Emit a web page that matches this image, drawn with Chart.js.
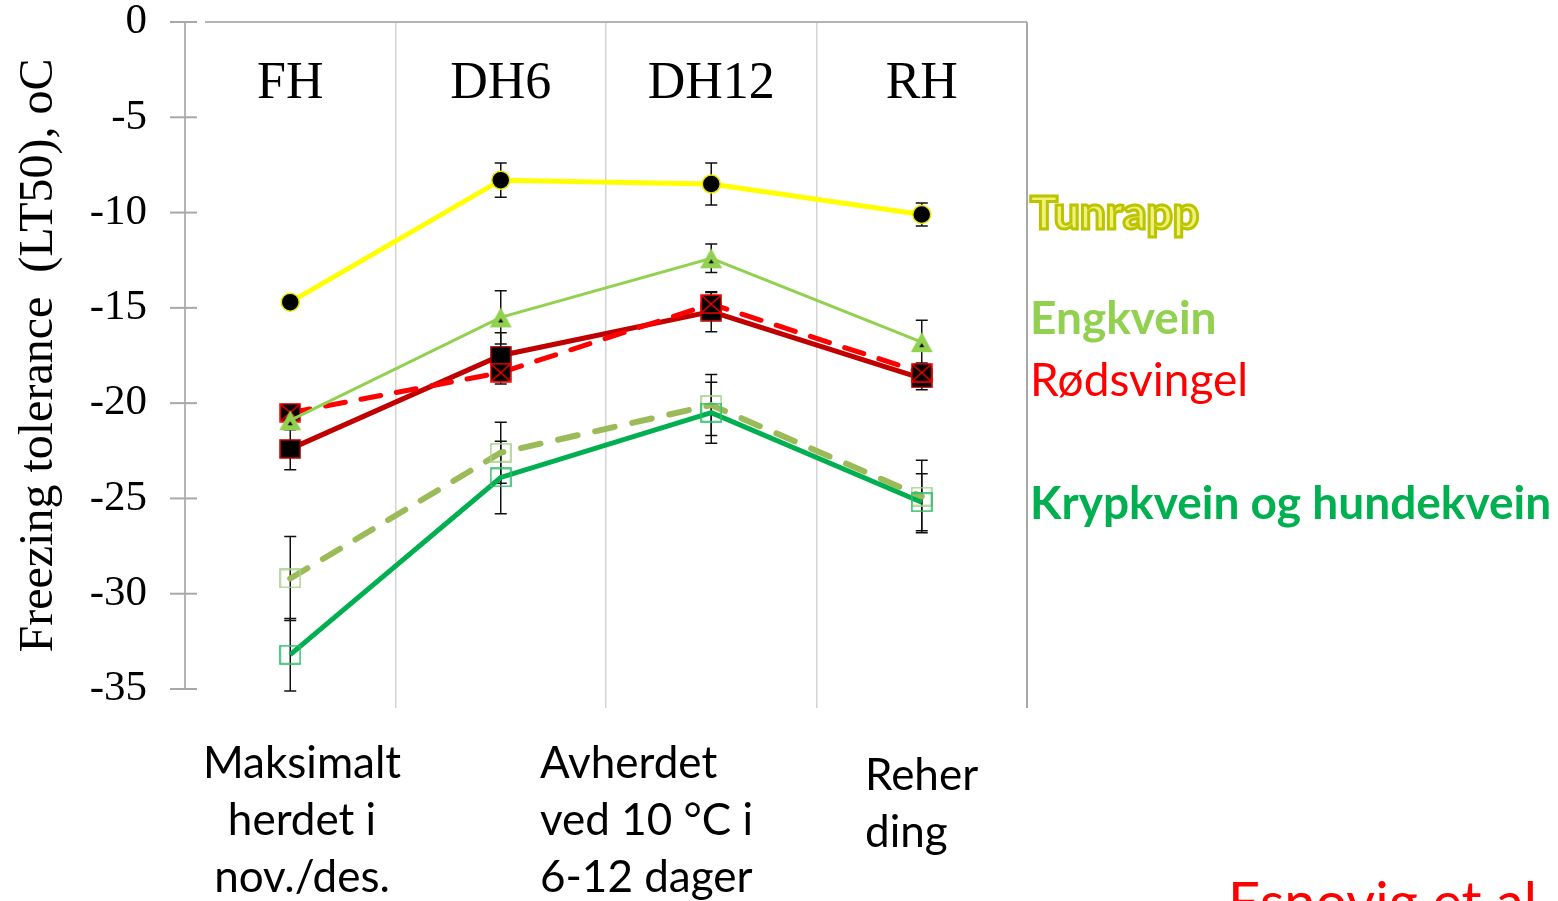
<!DOCTYPE html>
<html>
<head>
<meta charset="utf-8">
<script src="https://cdn.jsdelivr.net/npm/chart.js@4.4.1/dist/chart.umd.min.js"></script>
<style>
  html, body { margin: 0; padding: 0; background: #fff; }
  body { width: 1558px; height: 901px; overflow: hidden; position: relative; }
  #c { position: absolute; left: 0; top: 0; }
  .lbl { position: absolute; white-space: nowrap; font-family: Lato, "Open Sans", sans-serif; line-height: 1; }
  .blk { position: absolute; font-family: Lato, "Open Sans", sans-serif; font-size: 44px; line-height: 57px; color: #000; white-space: nowrap; }
</style>
</head>
<body>
<canvas id="c" width="1558" height="901"></canvas>

<div class="lbl" style="left:1030px; top:189px; font-size:46px; font-weight:900; color:#eef27a; -webkit-text-stroke:3px #bcc400;">Tunrapp</div>
<div class="lbl" style="left:1030px; top:294px; font-size:46px; font-weight:700; color:#92D050;">Engkvein</div>
<div class="lbl" style="left:1030px; top:356px; font-size:46px; font-weight:400; color:#FF0000;">Rødsvingel</div>
<div class="lbl" style="left:1030px; top:479px; font-size:46px; font-weight:700; color:#00B050;">Krypkvein og hundekvein</div>

<div class="blk" style="left:152px; top:733px; width:300px; text-align:center;">Maksimalt<br>herdet i<br>nov./des.</div>
<div class="blk" style="left:540px; top:733px;">Avherdet<br>ved 10 °C i<br>6-12 dager</div>
<div class="blk" style="left:865px; top:745px;">Reher<br>ding</div>

<div class="lbl" style="left:1228px; top:873px; font-size:56px; color:#FF0000;">Esnovig et al</div>

<script>
// ---------- data ----------
const categories = ['FH', 'DH6', 'DH12', 'RH'];
const yTickMin = -35;
const yTickMax = 0;
const yTickStep = 5;
const yTitle = 'Freezing tolerance  (LT50), oC';

const tunrapp      = [-14.7, -8.3, -8.5, -10.1];
const tunrappErr   = [0.3, 0.9, 1.1, 0.6];
const engkvein     = [-20.9, -15.5, -12.4, -16.8];
const engkveinErr  = [0.5, 1.4, 0.75, 1.15];
const rodDashed    = [-20.5, -18.4, -14.8, -18.4];
const rodDashedErr = [0.4, 0.6, 0.6, 0.5];
const rodSolid     = [-22.4, -17.5, -15.2, -18.7];
const rodSolidErr  = [1.1, 1.2, 1.05, 0.6];
const krypkvein    = [-33.2, -23.9, -20.5, -25.2];
const krypkveinErr = [1.9, 1.9, 1.6, 1.5];
const hundekvein   = [-29.2, -22.6, -20.1, -24.9];
const hundekveinErr= [2.2, 1.6, 1.6, 1.9];

// ---------- marker images ----------
function mk(w, h, draw) {
  const c = document.createElement('canvas');
  c.width = w; c.height = h;
  draw(c.getContext('2d'), w, h);
  return c;
}
const triMarker = mk(24, 22, (g, w, h) => {
  g.fillStyle = '#92D050';
  g.beginPath(); g.moveTo(w/2, 1); g.lineTo(w-1, h-1); g.lineTo(1, h-1); g.closePath(); g.fill();
  g.fillStyle = '#000';
  g.beginPath(); g.moveTo(w/2, h/2 + 1); g.lineTo(w/2 + 2.5, h/2 + 5); g.lineTo(w/2 - 2.5, h/2 + 5); g.closePath(); g.fill();
});
const sqSolid = mk(22, 20, (g, w, h) => {
  g.fillStyle = '#000'; g.fillRect(1, 1, w-2, h-2);
  g.strokeStyle = '#C00000'; g.lineWidth = 1.5; g.strokeRect(1, 1, w-2, h-2);
});
const sqCross = mk(22, 20, (g, w, h) => {
  g.fillStyle = '#000'; g.fillRect(1, 1, w-2, h-2);
  g.strokeStyle = '#FF0000'; g.lineWidth = 1.5; g.strokeRect(1, 1, w-2, h-2);
  g.beginPath(); g.moveTo(2, 2); g.lineTo(w-2, h-2); g.moveTo(w-2, 2); g.lineTo(2, h-2); g.stroke();
});
const sqOpenGreen = mk(22, 20, (g, w, h) => {
  g.strokeStyle = '#2DBE6A'; g.lineWidth = 1.6; g.strokeRect(1, 1, w-2, h-2);
});
const sqOpenOlive = mk(22, 20, (g, w, h) => {
  g.strokeStyle = '#A9D18E'; g.lineWidth = 1.6; g.strokeRect(1, 1, w-2, h-2);
});

// ---------- plugins ----------
const errorBars = {
  id: 'errorBars',
  beforeDatasetsDraw(chart) {
    const g = chart.ctx, ys = chart.scales.y;
    g.save();
    g.strokeStyle = '#111'; g.lineWidth = 1.5;
    chart.data.datasets.forEach((ds, di) => {
      const meta = chart.getDatasetMeta(di);
      if (!ds.errors) return;
      meta.data.forEach((pt, i) => {
        const v = ds.data[i], e = ds.errors[i];
        const y1 = ys.getPixelForValue(v + e), y2 = ys.getPixelForValue(v - e);
        g.beginPath();
        g.moveTo(pt.x, y1); g.lineTo(pt.x, y2);
        g.moveTo(pt.x - 6, y1); g.lineTo(pt.x + 6, y1);
        g.moveTo(pt.x - 6, y2); g.lineTo(pt.x + 6, y2);
        g.stroke();
      });
    });
    g.restore();
  }
};

const frame = {
  id: 'frame',
  afterDraw(chart) {
    const g = chart.ctx, a = chart.chartArea, ys = chart.scales.y, xs = chart.scales.x;
    g.save();
    g.strokeStyle = '#a8a8a8'; g.lineWidth = 2;
    ys.ticks.forEach(t => {
      const y = ys.getPixelForValue(t.value);
      g.beginPath(); g.moveTo(a.left - 15, y); g.lineTo(a.left + 12, y); g.stroke();
    });
    g.strokeStyle = '#b4b4b4'; g.lineWidth = 2;
    g.beginPath(); g.moveTo(a.left + 20, a.top); g.lineTo(a.right, a.top); g.stroke();
    g.fillStyle = '#000';
    g.font = '52px "Liberation Serif", "Times New Roman", serif';
    g.textAlign = 'center'; g.textBaseline = 'middle';
    categories.forEach((c, i) => {
      g.fillText(c, xs.getPixelForValue(i), a.top + 62);
    });
    g.restore();
  }
};

// ---------- chart ----------
new Chart(document.getElementById('c'), {
  type: 'line',
  data: {
    labels: categories,
    datasets: [
      { label: 'Tunrapp', data: tunrapp, errors: tunrappErr,
        borderColor: '#FFFF00', borderWidth: 5,
        pointStyle: 'circle', pointRadius: 9, pointBackgroundColor: '#000', pointBorderColor: '#E8E800', pointBorderWidth: 1.5 },
      { label: 'Engkvein', data: engkvein, errors: engkveinErr,
        borderColor: '#92D050', borderWidth: 3,
        pointStyle: triMarker, pointRadius: 10 },
      { label: 'Rødsvingel (stiplet)', data: rodDashed, errors: rodDashedErr,
        borderColor: '#FF0000', borderWidth: 5, borderDash: [20, 16], borderCapStyle: 'round',
        pointStyle: sqCross, pointRadius: 10 },
      { label: 'Rødsvingel', data: rodSolid, errors: rodSolidErr,
        borderColor: '#C00000', borderWidth: 5,
        pointStyle: sqSolid, pointRadius: 10 },
      { label: 'Krypkvein', data: krypkvein, errors: krypkveinErr,
        borderColor: '#00B050', borderWidth: 5,
        pointStyle: sqOpenGreen, pointRadius: 10 },
      { label: 'Hundekvein', data: hundekvein, errors: hundekveinErr,
        borderColor: '#9BBB59', borderWidth: 6, borderDash: [20, 18], borderCapStyle: 'round',
        pointStyle: sqOpenOlive, pointRadius: 10 }
    ]
  },
  options: {
    responsive: false,
    animation: false,
    devicePixelRatio: 1,
    events: [],
    layout: { padding: { left: 0, top: 22, right: 531, bottom: 193 } },
    plugins: { legend: { display: false }, tooltip: { enabled: false } },
    elements: { line: { tension: 0, fill: false } },
    scales: {
      x: {
        type: 'category',
        offset: true,
        grid: {
          offset: true,
          drawOnChartArea: true,
          drawTicks: true,
          tickLength: 19,
          color: ctx => ctx.index === 0 ? 'rgba(0,0,0,0)' : (ctx.index === undefined ? '#a8a8a8' : '#d4d4d4'),
          lineWidth: ctx => ctx.index === undefined ? 2 : 1.5
        },
        ticks: { display: false },
        border: { display: false },
        afterFit: s => { s.height = 19; }
      },
      y: {
        type: 'linear',
        min: yTickMin, max: yTickMax,
        ticks: { stepSize: yTickStep, color: '#000', padding: 38,
          font: { family: '"Liberation Serif", "Times New Roman", serif', size: 43, lineHeight: 1 } },
        grid: { drawOnChartArea: false, drawTicks: false },
        border: { display: true, color: '#b4b4b4', width: 2 },
        title: { display: true, text: yTitle, color: '#000',
          font: { family: '"Liberation Serif", "Times New Roman", serif', size: 48, lineHeight: 1.2 },
          padding: { top: 11, bottom: 0 } },
        afterFit: s => { s.width = 185; s.paddingTop = 0; s.paddingBottom = 0; }
      }
    }
  },
  plugins: [errorBars, frame]
});
</script>
</body>
</html>
